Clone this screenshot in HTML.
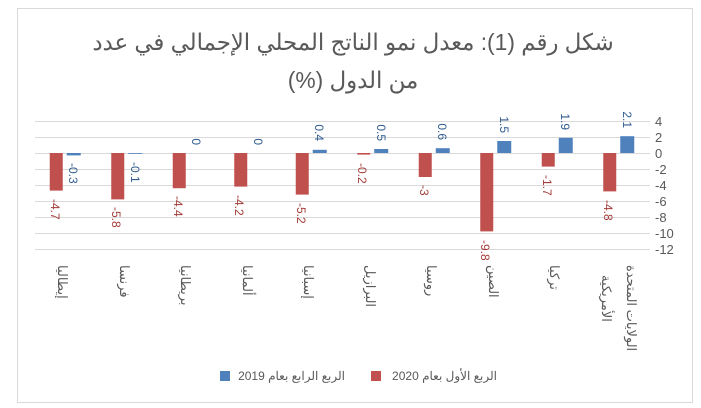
<!DOCTYPE html>
<html><head><meta charset="utf-8"><style>
body{margin:0;background:#fff;}
svg{display:block;font-family:"Liberation Sans","Noto Sans CJK SC",sans-serif;}
</style></head><body>
<svg width="701" height="408" viewBox="0 0 701 408" xmlns="http://www.w3.org/2000/svg">
<rect x="17.5" y="8.5" width="675" height="394" fill="#fff" stroke="#d9d9d9"/>
<g fill="#595959" font-size="22.8" text-anchor="middle">
<text x="353" y="50" direction="rtl">شكل رقم (1): معدل نمو الناتج المحلي الإجمالي في عدد</text>
<text x="353" y="88" direction="rtl">من الدول (%)</text>
</g>
<g stroke="#d9d9d9" stroke-width="1">
<line x1="35" x2="650" y1="121.5" y2="121.5"/><line x1="35" x2="650" y1="137.5" y2="137.5"/>
<line x1="35" x2="650" y1="153.5" y2="153.5"/><line x1="35" x2="650" y1="169.5" y2="169.5"/>
<line x1="35" x2="650" y1="185.5" y2="185.5"/><line x1="35" x2="650" y1="201.5" y2="201.5"/>
<line x1="35" x2="650" y1="217.5" y2="217.5"/><line x1="35" x2="650" y1="233.5" y2="233.5"/>
<line x1="35" x2="650" y1="249.5" y2="249.5"/>
</g>
<g fill="#595959" font-size="13">
<text x="655" y="126">4</text><text x="655" y="142">2</text><text x="655" y="158">0</text>
<text x="655" y="174">-2</text><text x="655" y="190">-4</text><text x="655" y="206">-6</text>
<text x="655" y="222">-8</text><text x="655" y="238">-10</text><text x="655" y="254">-12</text>
</g>
<g fill="#c0504d">
<rect x="49.75" y="153" width="13" height="37.6"/>
<rect x="111.25" y="153" width="13" height="46.4"/>
<rect x="172.75" y="153" width="13" height="35.2"/>
<rect x="234.25" y="153" width="13" height="33.6"/>
<rect x="295.75" y="153" width="13" height="41.6"/>
<rect x="357.25" y="153" width="13" height="1.6"/>
<rect x="418.75" y="153" width="13" height="24"/>
<rect x="480.25" y="153" width="13" height="78.4"/>
<rect x="541.75" y="153" width="13" height="13.6"/>
<rect x="603.25" y="153" width="13" height="38.4"/>
</g>
<g fill="#4f81bd">
<rect x="66.75" y="153" width="14" height="2.4"/>
<rect x="128.25" y="153" width="14" height="0.8"/>
<rect x="312.75" y="149.8" width="14" height="3.2"/>
<rect x="374.25" y="149" width="14" height="4"/>
<rect x="435.75" y="148.2" width="14" height="4.8"/>
<rect x="497.25" y="141" width="14" height="12"/>
<rect x="558.75" y="137.8" width="14" height="15.2"/>
<rect x="620.25" y="136.2" width="14" height="16.8"/>
</g>
<g fill="#a33b38" font-size="12">
<text transform="translate(51,199) rotate(90)">-4.7</text>
<text transform="translate(112,207) rotate(90)">-5.8</text>
<text transform="translate(174,196) rotate(90)">-4.4</text>
<text transform="translate(235,195) rotate(90)">-4.2</text>
<text transform="translate(297,203) rotate(90)">-5.2</text>
<text transform="translate(358,163) rotate(90)">-0.2</text>
<text transform="translate(420,185) rotate(90)">-3</text>
<text transform="translate(481,240) rotate(90)">-9.8</text>
<text transform="translate(543,175) rotate(90)">-1.7</text>
<text transform="translate(604,200) rotate(90)">-4.8</text>
</g>
<g fill="#2f5b8f" font-size="12">
<text transform="translate(69,163) rotate(90)">-0.3</text>
<text transform="translate(131,162) rotate(90)">-0.1</text>
<text transform="translate(192,145) rotate(90)" text-anchor="end">0</text>
<text transform="translate(254,145) rotate(90)" text-anchor="end">0</text>
<text transform="translate(315,141) rotate(90)" text-anchor="end">0.4</text>
<text transform="translate(377,141) rotate(90)" text-anchor="end">0.5</text>
<text transform="translate(438,140) rotate(90)" text-anchor="end">0.6</text>
<text transform="translate(500,133) rotate(90)" text-anchor="end">1.5</text>
<text transform="translate(561,130) rotate(90)" text-anchor="end">1.9</text>
<text transform="translate(623,128) rotate(90)" text-anchor="end">2.1</text>
</g>
<g fill="#595959" font-size="13">
<text transform="translate(58,265) rotate(90)">إيطاليا</text>
<text transform="translate(120,265) rotate(90)">فرنسا</text>
<text transform="translate(181,265) rotate(90)">بريطانيا</text>
<text transform="translate(243,265) rotate(90)">ألمانيا</text>
<text transform="translate(304,265) rotate(90)">إسبانيا</text>
<text transform="translate(366,265) rotate(90)">البرازيل</text>
<text transform="translate(427,265) rotate(90)">روسيا</text>
<text transform="translate(489,265) rotate(90)">الصين</text>
<text transform="translate(550,265) rotate(90)">تركيا</text>
<text transform="translate(627,265) rotate(90)">الولايات المتحدة</text>
<text transform="translate(602,275) rotate(90)">الأمريكية</text>
</g>
<rect x="220" y="371" width="10" height="10" fill="#4f81bd"/>
<text x="345" y="380" fill="#595959" font-size="12" text-anchor="start" direction="rtl">الربع الرابع بعام 2019</text>
<rect x="371" y="371" width="10" height="10" fill="#c0504d"/>
<text x="497" y="380" fill="#595959" font-size="12" text-anchor="start" direction="rtl">الربع الأول بعام 2020</text>
</svg>
</body></html>
